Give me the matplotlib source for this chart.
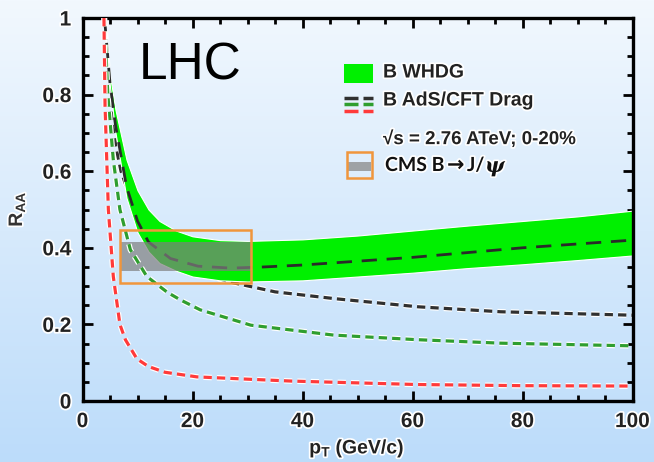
import numpy as np
import matplotlib
matplotlib.use("Agg")
import matplotlib.pyplot as plt
from matplotlib.patches import Rectangle
from matplotlib.lines import Line2D
import matplotlib.patheffects as pe
from matplotlib.ticker import MultipleLocator
from matplotlib.font_manager import FontProperties

# ---------------- data ----------------
band_x     = [3.8, 5, 6, 8, 10, 12, 14, 17, 20, 25, 30, 40, 50, 60, 70, 80, 90, 100]
band_upper = [1.0, 0.85, 0.76, 0.63, 0.55, 0.50, 0.47, 0.445, 0.43, 0.42, 0.418, 0.422, 0.432, 0.445, 0.458, 0.47, 0.482, 0.497]
band_lower = [1.0, 0.82, 0.70, 0.53, 0.44, 0.39, 0.36, 0.34, 0.325, 0.315, 0.312, 0.315, 0.325, 0.335, 0.347, 0.357, 0.368, 0.38]

whdg_mid_x = [4, 5, 6, 8, 10, 12, 16, 21, 27, 33, 40, 60, 80, 100]
whdg_mid_y = [1.0, 0.83, 0.72, 0.56, 0.47, 0.415, 0.372, 0.352, 0.347, 0.35, 0.355, 0.375, 0.40, 0.42]

ads_black_x = [4, 5, 6, 7, 8.7, 10, 12, 16, 20, 27, 35, 46, 61, 76, 100]
ads_black_y = [1.0, 0.78, 0.67, 0.60, 0.53, 0.48, 0.43, 0.37, 0.34, 0.31, 0.285, 0.267, 0.246, 0.233, 0.224]

ads_green_x = [4, 4.6, 5.6, 6.8, 8.7, 11.7, 15.4, 17.8, 21.4, 30.6, 45.7, 61, 76, 100]
ads_green_y = [1.0, 0.80, 0.63, 0.50, 0.395, 0.325, 0.284, 0.264, 0.238, 0.198, 0.172, 0.16, 0.151, 0.144]

ads_red_x = [3.9, 4.1, 4.7, 5.6, 6.8, 7.8, 9.9, 12, 15, 20.8, 30, 38, 61, 80, 100]
ads_red_y = [1.0, 0.77, 0.50, 0.325, 0.20, 0.16, 0.11, 0.09, 0.075, 0.063, 0.057, 0.052, 0.043, 0.040, 0.039]

cms_pt   = [6.8, 30.6]      # pT range of the CMS point
cms_band = [0.34, 0.415]    # gray band (central value range)
cms_box  = [0.308, 0.447]   # orange box (systematic)

xticks = [0, 20, 40, 60, 80, 100]
yticks = [0, 0.2, 0.4, 0.6, 0.8, 1.0]
yticklabels = ["0", "0.2", "0.4", "0.6", "0.8", "1"]

# ---------------- figure ----------------
W, H = 654, 462
fig = plt.figure(figsize=(W/100, H/100), dpi=100)

def fpx(x, y):
    return (x / W, 1 - y / H)

# background gradient
bg = fig.add_axes([0, 0, 1, 1], zorder=-10)
top = np.array([242, 248, 254]) / 255
bot = np.array([188, 220, 250]) / 255
t = np.linspace(0, 1, 256)[:, None]
grad = top[None, :] * (1 - t) + bot[None, :] * t
bg.imshow(grad[:, None, :], aspect='auto', extent=[0, 1, 0, 1])
bg.axis('off')

l, r = 82.5 / W, 632.5 / W
b, tp = 1 - 401 / H, 1 - 18 / H
ax = fig.add_axes([l, b, r - l, tp - b])
ax.set_facecolor('none')
ax.set_xlim(0, 100)
ax.set_ylim(0, 1)

white_glow = [pe.withStroke(linewidth=4.0, foreground='white')]

# AdS/CFT black (under band)
ax.plot(ads_black_x, ads_black_y, color='#303030', lw=2.3, ls=(0, (2.6, 1.6)),
        path_effects=white_glow, zorder=1)
# WHDG band
ax.fill_between(band_x, band_lower, band_upper, color='#00f000', lw=0.8,
                edgecolor='white', zorder=2)
# WHDG central
ax.plot(whdg_mid_x, whdg_mid_y, color='#2a2a2a', lw=2.0, ls=(0, (5.5, 3.5)), zorder=3)
# CMS gray band
ax.add_patch(Rectangle((cms_pt[0], cms_band[0]), cms_pt[1] - cms_pt[0],
                       cms_band[1] - cms_band[0], facecolor='#7f7f7f',
                       alpha=0.7, lw=0, zorder=4))
# AdS/CFT green & red
ax.plot(ads_green_x, ads_green_y, color='#2f9e2f', lw=2.3, ls=(0, (2.6, 1.6)),
        path_effects=white_glow, zorder=5)
ax.plot(ads_red_x, ads_red_y, color='#ff3a3a', lw=2.3, ls=(0, (2.6, 1.6)),
        path_effects=white_glow, zorder=5)
# CMS orange box
ax.add_patch(Rectangle((cms_pt[0], cms_box[0]), cms_pt[1] - cms_pt[0],
                       cms_box[1] - cms_box[0], facecolor='none',
                       edgecolor='#f0963c', lw=1.8, zorder=6))

# axes styling
for s in ax.spines.values():
    s.set_linewidth(2.4)
    s.set_color('black')
ax.xaxis.set_major_locator(MultipleLocator(20))
ax.xaxis.set_minor_locator(MultipleLocator(5))
ax.yaxis.set_major_locator(MultipleLocator(0.2))
ax.yaxis.set_minor_locator(MultipleLocator(0.05))
ax.tick_params(which='both', direction='in', top=True, right=True, width=2.0, color='black')
ax.tick_params(which='major', length=7)
ax.tick_params(which='minor', length=4)
ax.tick_params(axis='x', pad=8)
ax.tick_params(axis='y', pad=8)
ax.set_xticks(xticks)
ax.set_yticks(yticks)
ax.set_yticklabels(yticklabels)
tfp = FontProperties(family='Liberation Sans', weight='bold', size=15)
for lab in ax.get_xticklabels() + ax.get_yticklabels():
    lab.set_fontproperties(tfp)
    lab.set_color('#222222')
    lab.set_path_effects([pe.withStroke(linewidth=2.5, foreground='white')])

plt.rcParams['mathtext.fontset'] = 'custom'
plt.rcParams['mathtext.rm'] = 'Liberation Sans'
plt.rcParams['mathtext.bf'] = 'Liberation Sans:bold'
plt.rcParams['mathtext.it'] = 'Liberation Sans:italic'

glow = [pe.withStroke(linewidth=2.5, foreground='white')]
fig.text(*fpx(357, 449), r'$\mathbf{p_T}$ (GeV/c)', ha='center', va='center',
         family='Liberation Sans', weight='bold', size=14, color='#222222',
         path_effects=glow)
fig.text(*fpx(17, 209), r'$\mathbf{R_{AA}}$', ha='center', va='center', rotation=90,
         family='Liberation Sans', weight='bold', size=14, color='#333333',
         path_effects=glow)

# LHC label
fig.text(*fpx(139, 80), 'LHC', ha='left', va='baseline',
         family='Liberation Sans', size=37, color='black')

# legend
fig.add_artist(Rectangle(fpx(344, 83), 29 / W, 19 / H, transform=fig.transFigure,
                         facecolor='#00f000', edgecolor='none'))
leg_font = dict(family=['Liberation Sans', 'DejaVu Sans'], weight='bold', size=14,
                color='#222222', path_effects=glow)
fig.text(*fpx(383, 73), 'B WHDG', ha='left', va='center', **leg_font)
for yy, c in [(98, '#303030'), (104, '#2f9e2f'), (111, '#ff3a3a')]:
    for x0, x1 in [(344, 358), (363, 373)]:
        fig.add_artist(Line2D([x0 / W, x1 / W], [1 - yy / H, 1 - yy / H],
                              transform=fig.transFigure, color=c, lw=2.5,
                              solid_capstyle='butt'))
fig.text(*fpx(383, 101), 'B AdS/CFT Drag', ha='left', va='center', **leg_font)
fig.text(*fpx(383, 139), '√s = 2.76 ATeV; 0-20%', ha='left', va='center',
         family=['Liberation Sans', 'DejaVu Sans'], weight='bold', size=13.5,
         color='#222222', path_effects=glow)
fig.add_artist(Rectangle(fpx(348, 171), 23 / W, 9 / H, transform=fig.transFigure,
                         facecolor='#8f8f8f', edgecolor='none', alpha=0.8))
fig.add_artist(Rectangle(fpx(347, 178), 25 / W, 26 / H, transform=fig.transFigure,
                         facecolor='none', edgecolor='#f0963c', lw=1.8))
cms_font = dict(ha='left', va='baseline', color='#111111', path_effects=glow)
ybase = 171
fig.text(*fpx(385, ybase), 'CMS B', family=['Lato', 'DejaVu Sans'], weight='bold',
         size=14, **cms_font)
fig.text(*fpx(447, ybase), '→', family=['DejaVu Sans'], weight='bold', size=15, **cms_font)
fig.text(*fpx(467, ybase), 'J/', family=['Lato', 'DejaVu Sans'], weight='bold',
         size=14, **cms_font)
fig.text(*fpx(485, ybase + 1), 'ψ', family=['DejaVu Serif'], weight='bold',
         style='italic', size=15, **cms_font)

fig.savefig('out.png', dpi=100)
